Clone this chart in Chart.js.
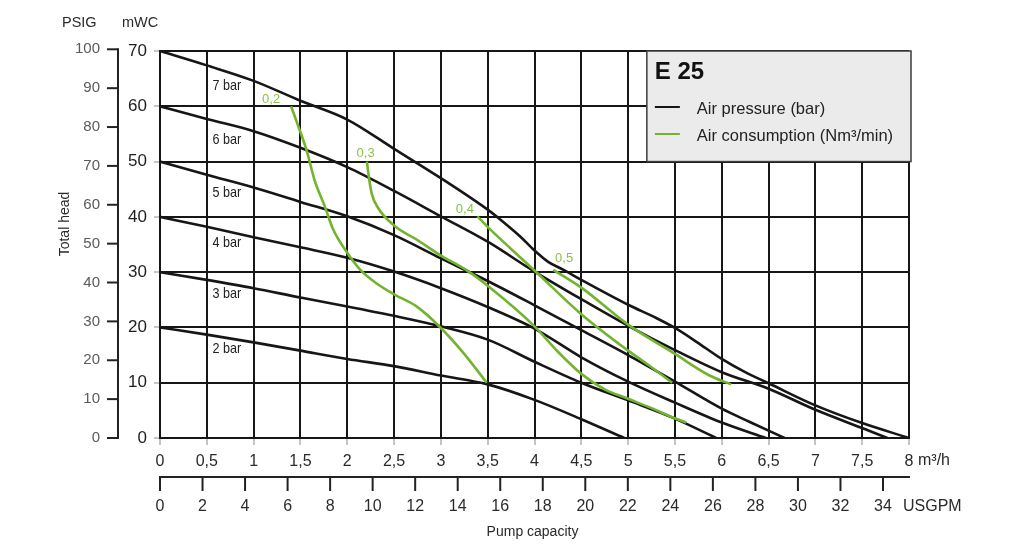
<!DOCTYPE html>
<html>
<head>
<meta charset="utf-8">
<title>E 25</title>
<script src="https://cdn.jsdelivr.net/npm/chart.js@4.4.0/dist/chart.umd.min.js"></script>
<style>
  body { margin: 0; background: #fff; }
  canvas { display: block; }
</style>
</head>
<body>
<canvas id="grafico" width="1031" height="550"></canvas>
<script>
// ejes secundarios
const psigTicks = [0, 10, 20, 30, 40, 50, 60, 70, 80, 90, 100];
const usgpmTicks = [0, 2, 4, 6, 8, 10, 12, 14, 16, 18, 20, 22, 24, 26, 28, 30, 32, 34];
const PSI_A_MCA = 0.70307;      // 1 psi en mWC
const M3H_A_USGPM = 4.40287;    // 1 m3/h en USGPM

// curvas de presion de aire (m3/h, mWC)
const bar7 = [[0,70],[0.5,67.4],[1,64.6],[1.5,61],[2,57.6],[2.5,52.3],[3,47],[3.5,41.3],[3.65,39.3],[3.85,36.4],[4,33.9],[4.15,31.8],[4.3,30.5],[4.5,28.6],[5,24.1],[5.3,21.7],[5.5,19.9],[5.73,17.4],[6,14.3],[6.25,11.9],[6.5,9.9],[7,5.9],[7.5,2.7],[8,0]];
const bar6 = [[0,60],[0.5,57.7],[1,55.5],[1.5,52.5],[2,49],[2.5,44.7],[3,40.1],[3.5,35.5],[4,30.1],[4.5,25.1],[5,20.3],[5.5,15.9],[6,11.9],[6.5,8.9],[7,5.1],[7.5,1.8],[7.77,0]];
const bar5 = [[0,50],[0.5,47.6],[1,45.3],[1.5,42.7],[2,40.1],[2.5,36.7],[3,32.5],[3.5,28.4],[4,24],[4.5,19.5],[5,15],[5.5,10.2],[6,5.3],[6.3,2.9],[6.67,0]];
const bar4 = [[0,40],[0.5,38.2],[1,36.3],[1.5,34.5],[2,32.6],[2.5,30.1],[3,27.1],[3.5,23.7],[4,19.8],[4.5,14.6],[5,10.2],[5.5,6.4],[6,2.8],[6.47,0]];
const bar3 = [[0,30],[0.5,28.6],[1,27.1],[1.5,25.4],[2,23.8],[2.5,22.1],[3,20.2],[3.5,17.8],[4,13.8],[4.5,10],[5,6.8],[5.5,3.5],[5.94,0]];
const bar2 = [[0,20],[0.5,18.7],[1,17.3],[1.5,15.8],[2,14.3],[2.5,13],[3,11.3],[3.5,9.7],[4,6.9],[4.5,3.4],[4.96,0]];

// curvas de consumo de aire (Nm3/min)
const aire02 = [[1.4,60],[1.49,55.8],[1.57,51.8],[1.65,46.7],[1.76,41.9],[1.85,37.7],[2,33.5],[2.14,30.4],[2.31,28],[2.51,25.9],[2.74,23.8],[3,19.9],[3.24,15.4],[3.49,10]];
const aire03 = [[2.21,50],[2.23,47.3],[2.26,44.3],[2.33,41.6],[2.51,38.3],[2.74,35.9],[3,33],[3.27,30.4],[3.51,27.4],[4,20.2],[4.25,15.6],[4.5,11.6],[4.75,8.8],[5,7.1],[5.25,5.4],[5.45,3.9],[5.62,2.8]];
const aire04 = [[3.39,40.1],[3.51,38],[3.75,34.2],[4,30.3],[4.5,22.4],[5,15.8],[5.25,12.8],[5.47,10]];
const aire05 = [[4.2,30.4],[4.5,27.2],[5,20.5],[5.5,15.2],[5.87,11.3],[6.1,9.7]];

const curvasBar = [bar7, bar6, bar5, bar4, bar3, bar2];
const nombresBar = ['7 bar', '6 bar', '5 bar', '4 bar', '3 bar', '2 bar'];
const posNombresBar = [[0.56,63.7],[0.56,53.9],[0.56,44.4],[0.56,35.3],[0.56,26.1],[0.56,16.1]];
const curvasAire = [aire02, aire03, aire04, aire05];
const nombresAire = ['0,2', '0,3', '0,4', '0,5'];
const posNombresAire = [[1.09,61.3],[2.1,51.4],[3.16,41.3],[4.22,32.5]];

const tituloLeyenda = 'E 25';
const textosLeyenda = ['Air pressure (bar)', 'Air consumption (Nm³/min)'];

const VERDE = '#74b32e';
const NEGRO = '#161616';
const FUENTE = '"Liberation Sans", Arial, Helvetica, sans-serif';

function aPuntos(arr) {
    return arr.map(p => ({ x: p[0], y: p[1] }));
}

const datasets = [];
curvasAire.forEach((c, i) => {
    datasets.push({
        label: nombresAire[i],
        data: aPuntos(c),
        borderColor: VERDE,
        borderWidth: 2.6,
        pointRadius: 0,
        showLine: true,
        cubicInterpolationMode: 'monotone'
    });
});
curvasBar.forEach((c, i) => {
    datasets.push({
        label: nombresBar[i],
        data: aPuntos(c),
        borderColor: NEGRO,
        borderWidth: 2.6,
        pointRadius: 0,
        showLine: true,
        cubicInterpolationMode: 'monotone'
    });
});

const adornos = {
    id: 'adornos',
    beforeDatasetsDraw(chart) {
        const { ctx, scales: { x, y } } = chart;
        // cuadro de leyenda
        const l = x.getPixelForValue(5.2), r = x.getPixelForValue(8) + 2;
        const t = y.getPixelForValue(70), b = y.getPixelForValue(50);
        ctx.save();
        ctx.fillStyle = '#ebebeb';
        ctx.fillRect(l, t, r - l, b - t);
        ctx.strokeStyle = '#3c3c3c';
        ctx.lineWidth = 1.5;
        ctx.strokeRect(l, t, r - l, b - t);

        ctx.fillStyle = '#111';
        ctx.font = 'bold 24px ' + FUENTE;
        ctx.textAlign = 'left';
        ctx.textBaseline = 'alphabetic';
        ctx.fillText(tituloLeyenda, l + 8, t + 28);

        const colores = [NEGRO, VERDE];
        ctx.font = '16.5px ' + FUENTE;
        ctx.textBaseline = 'middle';
        textosLeyenda.forEach((txt, i) => {
            const yy = t + 56 + i * 27;
            ctx.strokeStyle = colores[i];
            ctx.lineWidth = 2;
            ctx.beginPath();
            ctx.moveTo(l + 8, yy);
            ctx.lineTo(l + 33, yy);
            ctx.stroke();
            ctx.fillStyle = '#222';
            ctx.fillText(txt, l + 50, yy + 2);
        });
        ctx.restore();
    },
    afterDatasetsDraw(chart) {
        const { ctx, scales: { x, y } } = chart;
        ctx.save();
        ctx.textAlign = 'left';
        ctx.textBaseline = 'middle';
        ctx.fillStyle = '#222';
        ctx.font = '15px ' + FUENTE;
        // rotulos de presion en letra estrecha
        nombresBar.forEach((n, i) => {
            const px = x.getPixelForValue(posNombresBar[i][0]);
            const py = y.getPixelForValue(posNombresBar[i][1]);
            ctx.save();
            ctx.translate(px, py);
            ctx.scale(0.84, 1);
            ctx.fillText(n, 0, 0);
            ctx.restore();
        });
        ctx.fillStyle = '#8cc04c';
        ctx.font = '13px ' + FUENTE;
        nombresAire.forEach((n, i) => {
            ctx.fillText(n, x.getPixelForValue(posNombresAire[i][0]), y.getPixelForValue(posNombresAire[i][1]));
        });
        ctx.restore();
    },
    afterDraw(chart) {
        const { ctx, scales: { x, y }, chartArea } = chart;
        ctx.save();
        // eje PSIG
        const ax = chartArea.left - 42;
        const yTop = y.getPixelForValue(100 * PSI_A_MCA), yBot = y.getPixelForValue(0);
        ctx.strokeStyle = '#222';
        ctx.lineWidth = 2;
        ctx.beginPath();
        ctx.moveTo(ax, yTop - 1);
        ctx.lineTo(ax, yBot + 1);
        ctx.stroke();
        ctx.font = '15px ' + FUENTE;
        ctx.textAlign = 'right';
        ctx.textBaseline = 'middle';
        psigTicks.forEach(v => {
            const py = y.getPixelForValue(v * PSI_A_MCA);
            ctx.beginPath();
            ctx.moveTo(ax - 11, py);
            ctx.lineTo(ax, py);
            ctx.stroke();
            ctx.fillStyle = '#5a5a5a';
            ctx.fillText(String(v), ax - 18, py);
        });

        // eje USGPM
        const ay = chartArea.bottom + 39;
        const x0 = x.getPixelForValue(0), x8 = x.getPixelForValue(8);
        ctx.beginPath();
        ctx.moveTo(x0 - 1, ay);
        ctx.lineTo(x8 + 1, ay);
        ctx.stroke();
        ctx.textAlign = 'center';
        ctx.font = '16px ' + FUENTE;
        usgpmTicks.forEach(g => {
            const px = x.getPixelForValue(g / M3H_A_USGPM);
            ctx.beginPath();
            ctx.moveTo(px, ay);
            ctx.lineTo(px, ay + 14);
            ctx.stroke();
            ctx.fillStyle = '#2a2a2a';
            ctx.fillText(String(g), px, ay + 30);
        });

        // textos de ejes
        ctx.fillStyle = '#2a2a2a';
        ctx.font = '14.5px ' + FUENTE;
        ctx.textAlign = 'left';
        ctx.fillText('PSIG', 62, 23);
        ctx.fillText('mWC', 122, 23);
        ctx.font = '16px ' + FUENTE;
        ctx.fillText('m³/h', x8 + 9, chartArea.bottom + 23);
        ctx.fillText('USGPM', x.getPixelForValue(34 / M3H_A_USGPM) + 20, ay + 30);
        ctx.font = '14px ' + FUENTE;
        ctx.textAlign = 'center';
        ctx.fillText('Pump capacity', (x0 + x8) / 2 - 2, ay + 55);
        ctx.translate(65, 224);
        ctx.rotate(-Math.PI / 2);
        ctx.fillText('Total head', 0, 0);
        ctx.restore();
    }
};

const ctx = document.getElementById('grafico').getContext('2d');
new Chart(ctx, {
    type: 'scatter',
    data: { datasets },
    options: {
        responsive: false,
        animation: false,
        layout: { padding: { top: 51, right: 122, left: 0, bottom: 0 } },
        plugins: {
            legend: { display: false },
            tooltip: { enabled: false }
        },
        scales: {
            x: {
                type: 'linear',
                min: 0,
                max: 8,
                ticks: {
                    stepSize: 0.5,
                    autoSkip: false,
                    maxRotation: 0,
                    padding: 7,
                    color: '#2a2a2a',
                    font: { size: 16, family: FUENTE },
                    callback: v => String(v).replace('.', ',')
                },
                grid: { color: NEGRO, lineWidth: 2, tickLength: 7, tickColor: '#8a8a8a', tickWidth: 1 },
                border: { color: NEGRO, width: 2 },
                afterFit: s => { s.height = 112; }
            },
            y: {
                type: 'linear',
                min: 0,
                max: 70,
                ticks: {
                    stepSize: 10,
                    padding: 7,
                    color: '#1e1e1e',
                    font: { size: 17, family: FUENTE }
                },
                grid: { color: NEGRO, lineWidth: 2, tickLength: 6, tickColor: '#8a8a8a', tickWidth: 1 },
                border: { color: NEGRO, width: 2 },
                afterFit: s => { s.width = 160; }
            }
        }
    },
    plugins: [adornos]
});
</script>
</body>
</html>
